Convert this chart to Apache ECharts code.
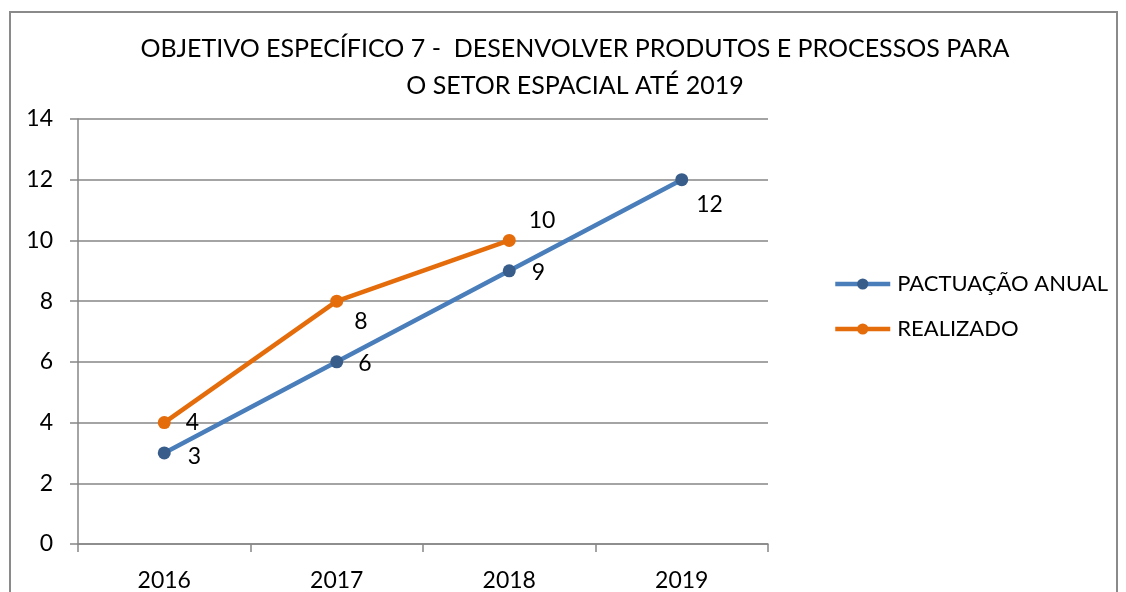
<!DOCTYPE html>
<html>
<head>
<meta charset="utf-8">
<style>
  html, body { margin: 0; padding: 0; background: #fff; }
  #chart { width: 1126px; height: 592px; }
</style>
<script src="https://cdn.jsdelivr.net/npm/echarts@6/dist/echarts.min.js"></script>
</head>
<body>
<div id="chart"></div>
<script>
const years = ["2016", "2017", "2018", "2019"];
const pactuacao = [3, 6, 9, 12];
const realizado = [4, 8, 10];
const titleText = "OBJETIVO ESPECÍFICO 7 -  DESENVOLVER PRODUTOS E PROCESSOS PARA\nO SETOR ESPACIAL ATÉ 2019";

const FONT = "Lato";
const BLUE = "#4a7ebb";
const BLUE_DARK = "#385d8a";
const ORANGE = "#e46c0a";

// label nudges (style only), matched by index
const blueNudge = [[12, 4], [10, 2], [11, 2], [3, 25]];
const orangeNudge = [[10, 0], [6, 20], [8, -20]];

const chart = echarts.init(document.getElementById("chart"), null, { renderer: "canvas" });

function points(values, nudges) {
  return values.map((v, i) => ({
    value: v,
    label: { offset: nudges[i] },
  }));
}

const labelStyle = {
  show: true,
  position: "right",
  color: "#000",
  fontFamily: FONT,
  fontSize: 23,
};

chart.setOption({
  backgroundColor: "#fff",
  animation: false,
  textStyle: { fontFamily: FONT },
  graphic: [
    {
      type: "rect",
      shape: { x: 10, y: 12, width: 1107, height: 600 },
      style: { fill: "none", stroke: "#8a8a8a", lineWidth: 2 },
    },
  ],
  title: {
    text: titleText,
    left: 570,
    textAlign: "center",
    top: 25,
    textStyle: {
      fontFamily: FONT,
      fontSize: 25,
      fontWeight: "normal",
      color: "#000",
      lineHeight: 37,
    },
  },
  legend: {
    orient: "vertical",
    left: 828,
    top: 268,
    itemWidth: 55,
    itemHeight: 14,
    itemGap: 23,
    data: [
      { name: "PACTUAÇÃO ANUAL", itemStyle: { color: BLUE_DARK }, lineStyle: { color: BLUE, width: 4.5 } },
      { name: "REALIZADO", itemStyle: { color: ORANGE }, lineStyle: { color: ORANGE, width: 4.5 } },
    ],
    textStyle: { fontFamily: FONT, fontSize: 22, color: "#000", padding: [0, 0, 0, 2] },
  },
  grid: { left: 78, right: 358, top: 119, bottom: 45, containLabel: false },
  xAxis: {
    type: "category",
    data: years,
    boundaryGap: true,
    axisLine: { lineStyle: { color: "#868686", width: 1.5 } },
    axisTick: { show: true, length: 8, alignWithLabel: false, lineStyle: { color: "#868686", width: 1.5 } },
    axisLabel: { color: "#000", fontSize: 23, fontFamily: FONT, margin: 25 },
  },
  yAxis: {
    type: "value",
    min: 0,
    max: 14,
    interval: 2,
    axisLine: { show: true, lineStyle: { color: "#868686", width: 1.5 } },
    axisTick: { show: true, length: 8, lineStyle: { color: "#868686", width: 1.5 } },
    axisLabel: { color: "#000", fontSize: 23, fontFamily: FONT, margin: 25 },
    splitLine: { show: true, lineStyle: { color: "#868686", width: 1.5 } },
  },
  series: [
    {
      name: "PACTUAÇÃO ANUAL",
      type: "line",
      data: points(pactuacao, blueNudge),
      symbol: "circle",
      symbolSize: 13,
      lineStyle: { color: BLUE, width: 4.5 },
      itemStyle: { color: BLUE_DARK },
      label: labelStyle,
      z: 2,
    },
    {
      name: "REALIZADO",
      type: "line",
      data: points(realizado, orangeNudge),
      symbol: "circle",
      symbolSize: 13,
      lineStyle: { color: ORANGE, width: 4.5 },
      itemStyle: { color: ORANGE },
      label: labelStyle,
      z: 3,
    },
  ],
});
</script>
</body>
</html>
